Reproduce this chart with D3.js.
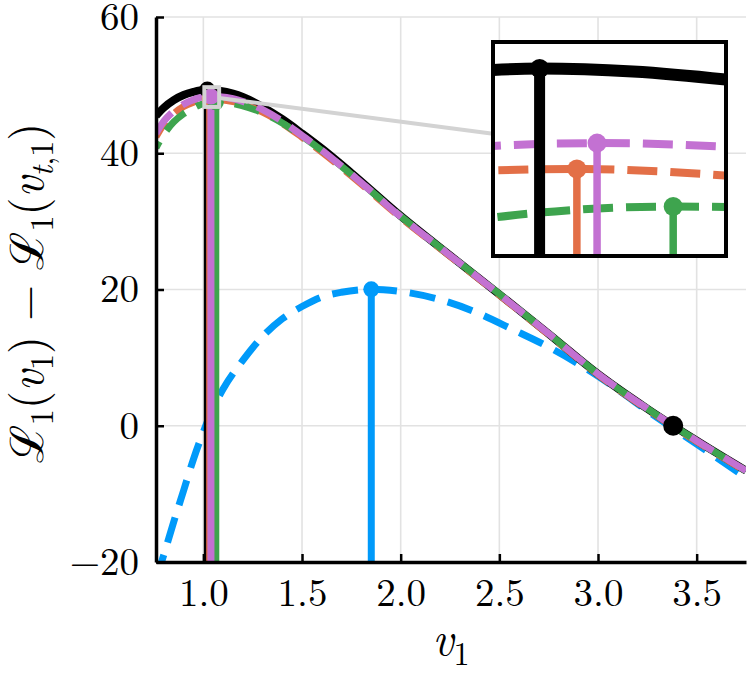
<!DOCTYPE html>
<html>
<head>
<meta charset="utf-8">
<script src="https://cdn.jsdelivr.net/npm/d3@7"></script>
<style>
  body { margin: 0; background: #fff; }
</style>
</head>
<body>
<svg id="chart" width="750" height="675"></svg>
<script>
// ---- data: [v1, L1(v1) - L1(v_t,1)] ----
const blackCurve = [
  [0.76, 45.5], [0.8, 46.7], [0.85, 47.8], [0.9, 48.55], [0.95, 49.0],
  [1.005, 49.32], [1.02, 49.34], [1.05, 49.30], [1.08, 49.19], [1.15, 48.75],
  [1.2, 48.25], [1.3, 46.8], [1.4, 45.0], [1.5, 42.9], [1.6, 40.7],
  [1.75, 37.1], [2.0, 30.8], [2.25, 25.0], [2.5, 19.3], [2.75, 13.5],
  [3.0, 7.6], [3.25, 2.5], [3.381, 0], [3.5, -2.2], [3.75, -6.6]
];
const blueCurve = [
  [0.76, -22.6], [0.8, -18.9], [0.85, -14.1], [0.9, -9.5], [0.95, -4.9],
  [1.0, -0.9], [1.05, 2.6], [1.1, 5.4], [1.2, 9.6], [1.3, 13.1],
  [1.4, 15.7], [1.5, 17.5], [1.6, 18.9], [1.7, 19.6], [1.851, 20.03],
  [2.0, 19.7], [2.2, 18.5], [2.37, 16.8], [2.57, 14.1], [2.76, 11.4],
  [2.95, 8.2], [3.1, 5.3], [3.25, 2.2], [3.5, -2.7], [3.75, -7.6]
];
const orangeCurve = [
  [0.76, 42.4], [0.8, 44.3], [0.85, 45.8], [0.9, 46.85], [0.95, 47.5],
  [1.005, 47.96], [1.032, 47.98], [1.08, 47.89], [1.15, 47.6], [1.2, 47.2],
  [1.3, 46.05], [1.4, 44.4], [1.5, 42.35], [1.6, 40.2], [1.75, 36.7],
  [2.0, 30.55], [2.25, 24.9], [2.5, 19.2], [2.75, 13.4], [3.0, 7.5],
  [3.25, 2.4], [3.5, -2.3], [3.75, -6.7]
];
const greenCurve = [
  [0.76, 40.8], [0.8, 42.8], [0.85, 44.6], [0.9, 45.8], [0.95, 46.65],
  [1.005, 47.32], [1.063, 47.47], [1.08, 47.465], [1.15, 47.3], [1.2, 46.95],
  [1.3, 45.95], [1.4, 44.45], [1.5, 42.5], [1.6, 40.4], [1.75, 36.9],
  [2.0, 30.75], [2.25, 25.0], [2.5, 19.35], [2.75, 13.5], [3.0, 7.6],
  [3.25, 2.5], [3.5, -2.2], [3.75, -6.6]
];
const purpleCurve = [
  [0.76, 42.9], [0.8, 44.7], [0.85, 46.2], [0.9, 47.2], [0.95, 47.85],
  [1.005, 48.29], [1.0385, 48.33], [1.08, 48.28], [1.15, 48.0], [1.2, 47.6],
  [1.3, 46.4], [1.4, 44.7], [1.5, 42.6], [1.6, 40.45], [1.75, 36.9],
  [2.0, 30.7], [2.25, 25.0], [2.5, 19.3], [2.75, 13.5], [3.0, 7.6],
  [3.25, 2.5], [3.5, -2.2], [3.75, -6.6]
];

// maxima (stem + dot) and the root of the black curve
const peakV = { black: 1.02, blue: 1.851, orange: 1.032, green: 1.063, purple: 1.0385 };
const peakL = { black: 49.34, blue: 20.03, orange: 47.98, green: 47.47, purple: 48.33 };
const rootPoint = [3.381, 0];

const xTicks = [1.0, 1.5, 2.0, 2.5, 3.0, 3.5];
const yTicks = [-20, 0, 20, 40, 60];
const xDomain = [0.76, 3.75];
const yDomain = [-20, 60];
const lensX = [1.005, 1.08];
const lensY = [46.8, 49.7];

// ---- layout ----
const plot = { left: 156, right: 746, top: 17, bottom: 562 };
const box = { left: 493, right: 726, top: 42, bottom: 256 };
const FONT = "'Latin Modern Roman'";

const colors = { black: '#000000', blue: '#009AFA', orange: '#E36F47', green: '#3EA44E', purple: '#C371D2' };
// drawing order as seen in the reference; green dashes sit in the purple gaps
const series = [
  { key: 'blue',   data: blueCurve,   dashed: true,  phase: 0 },
  { key: 'black',  data: blackCurve,  dashed: false, phase: 0 },
  { key: 'orange', data: orangeCurve, dashed: true,  phase: 8 },
  { key: 'green',  data: greenCurve,  dashed: true,  phase: 19 },
  { key: 'purple', data: purpleCurve, dashed: true,  phase: 0 },
];

const svg = d3.select('#chart');

const x = d3.scaleLinear().domain(xDomain).range([plot.left, plot.right]);
const y = d3.scaleLinear().domain(yDomain).range([plot.bottom, plot.top]);
const xi = d3.scaleLinear().domain(lensX).range([box.left, box.right]);
const yi = d3.scaleLinear().domain(lensY).range([box.bottom, box.top]);

const defs = svg.append('defs');
defs.append('clipPath').attr('id', 'clip-main').append('rect')
  .attr('x', plot.left).attr('y', plot.top)
  .attr('width', plot.right - plot.left).attr('height', plot.bottom - plot.top);
defs.append('clipPath').attr('id', 'clip-inset').append('rect')
  .attr('x', box.left).attr('y', box.top)
  .attr('width', box.right - box.left).attr('height', box.bottom - box.top);

// grid
const grid = svg.append('g').attr('stroke', '#e2e2e2').attr('stroke-width', 1.6);
grid.selectAll('.gx').data(xTicks).join('line')
  .attr('x1', d => x(d)).attr('x2', d => x(d))
  .attr('y1', plot.top).attr('y2', plot.bottom);
grid.selectAll('.gy').data(yTicks).join('line')
  .attr('x1', plot.left).attr('x2', plot.right)
  .attr('y1', d => y(d)).attr('y2', d => y(d));

function drawPanel(g, sx, sy, opt) {
  const line = d3.line().x(d => sx(d[0])).y(d => sy(d[1])).curve(d3.curveMonotoneX);
  series.forEach(s => {
    g.append('path').datum(s.data)
      .attr('d', line)
      .attr('fill', 'none')
      .attr('stroke', colors[s.key])
      .attr('stroke-width', s.dashed ? opt.dashW : opt.solidW)
      .attr('stroke-dasharray', s.dashed ? opt.dash : null)
      .attr('stroke-dashoffset', s.dashed ? s.phase : null)
      .attr('stroke-linecap', 'butt');
  });
  const base = sy.range()[0];
  series.forEach(s => {
    g.append('line')
      .attr('x1', sx(peakV[s.key])).attr('x2', sx(peakV[s.key]))
      .attr('y1', base).attr('y2', sy(peakL[s.key]))
      .attr('stroke', colors[s.key])
      .attr('stroke-width', s.key === 'black' ? opt.blackStemW : opt.stemW);
  });
  series.forEach(s => {
    g.append('circle')
      .attr('cx', sx(peakV[s.key])).attr('cy', sy(peakL[s.key]))
      .attr('r', opt.dotR)
      .attr('fill', colors[s.key]);
  });
}

const main = svg.append('g').attr('clip-path', 'url(#clip-main)');
drawPanel(main, x, y, { solidW: 8, dashW: 7, dash: '26,13', stemW: 7, blackStemW: 7, dotR: 8 });
main.append('circle')
  .attr('cx', x(rootPoint[0])).attr('cy', y(rootPoint[1]))
  .attr('r', 10).attr('fill', colors.black);

// axes
const xAxis = d3.axisBottom(x).tickValues(xTicks).tickFormat(d3.format('.1f'))
  .tickSize(-8).tickSizeOuter(0).tickPadding(16);
const yAxis = d3.axisLeft(y).tickValues(yTicks)
  .tickSize(-8).tickSizeOuter(0).tickPadding(17);

function styleAxis(g) {
  g.attr('font-family', null).attr('font-size', null);
  g.select('.domain').attr('stroke', '#000').attr('stroke-width', 3.5);
  g.selectAll('.tick line').attr('stroke', '#000').attr('stroke-width', 2.5);
  g.selectAll('.tick text')
    .style('font-family', FONT).style('font-size', '39px').style('fill', '#000');
}
svg.append('g').attr('transform', `translate(0,${plot.bottom})`).call(xAxis).call(styleAxis);
svg.append('g').attr('transform', `translate(${plot.left},0)`).call(yAxis).call(styleAxis);

// lens box and connector (centre-to-centre line, cut at both boxes)
const lb = { left: x(lensX[0]), right: x(lensX[1]), top: y(lensY[1]), bottom: y(lensY[0]) };
const cL = [(lb.left + lb.right) / 2, (lb.top + lb.bottom) / 2];
const cI = [(box.left + box.right) / 2, (box.top + box.bottom) / 2];
const dx = cI[0] - cL[0], dy = cI[1] - cL[1];
const t1 = Math.min((lb.right - lb.left) / 2 / Math.abs(dx), (lb.bottom - lb.top) / 2 / Math.abs(dy));
const t2 = Math.min((box.right - box.left) / 2 / Math.abs(dx), (box.bottom - box.top) / 2 / Math.abs(dy));
svg.append('line')
  .attr('x1', cL[0] + dx * t1).attr('y1', cL[1] + dy * t1)
  .attr('x2', cI[0] - dx * t2).attr('y2', cI[1] - dy * t2)
  .attr('stroke', '#d3d3d3').attr('stroke-width', 4);
svg.append('rect')
  .attr('x', lb.left).attr('y', lb.top)
  .attr('width', lb.right - lb.left).attr('height', lb.bottom - lb.top)
  .attr('fill', 'none').attr('stroke', '#d3d3d3').attr('stroke-width', 4);

// inset
svg.append('rect')
  .attr('x', box.left).attr('y', box.top)
  .attr('width', box.right - box.left).attr('height', box.bottom - box.top)
  .attr('fill', '#fff');
const inset = svg.append('g').attr('clip-path', 'url(#clip-inset)');
drawPanel(inset, xi, yi, { solidW: 12, dashW: 8, dash: '30,13', stemW: 7.5, blackStemW: 11, dotR: 9.5 });
svg.append('rect')
  .attr('x', box.left).attr('y', box.top)
  .attr('width', box.right - box.left).attr('height', box.bottom - box.top)
  .attr('fill', 'none').attr('stroke', '#000').attr('stroke-width', 4);

// math labels
function mathLabel(g, parts, size) {
  const t = g.append('text')
    .style('font-family', FONT).style('font-size', size + 'px')
    .attr('text-anchor', 'middle').attr('fill', '#000');
  let shift = 0;
  parts.forEach(p => {
    const s = t.append('tspan').text(p.t);
    if (p.i) s.style('font-style', 'italic');
    const target = p.sub ? size * 0.22 : 0;
    if (target !== shift) { s.attr('dy', target - shift); shift = target; }
    if (p.sub) s.style('font-size', (size * 0.7) + 'px');
  });
  return t;
}

mathLabel(svg.append('g').attr('transform', `translate(${(plot.left + plot.right) / 2},655)`),
  [{ t: 'v', i: 1 }, { t: '1', sub: 1 }], 46);

mathLabel(svg.append('g').attr('transform', 'translate(43,293) rotate(-90)'),
  [{ t: 'ℒ' }, { t: '1', sub: 1 }, { t: '(' }, { t: 'v', i: 1 }, { t: '1', sub: 1 }, { t: ')' },
   { t: ' − ' },
   { t: 'ℒ' }, { t: '1', sub: 1 }, { t: '(' }, { t: 'v', i: 1 }, { t: 't', i: 1, sub: 1 }, { t: ',1', sub: 1 }, { t: ')' }], 46);
</script>
</body>
</html>
